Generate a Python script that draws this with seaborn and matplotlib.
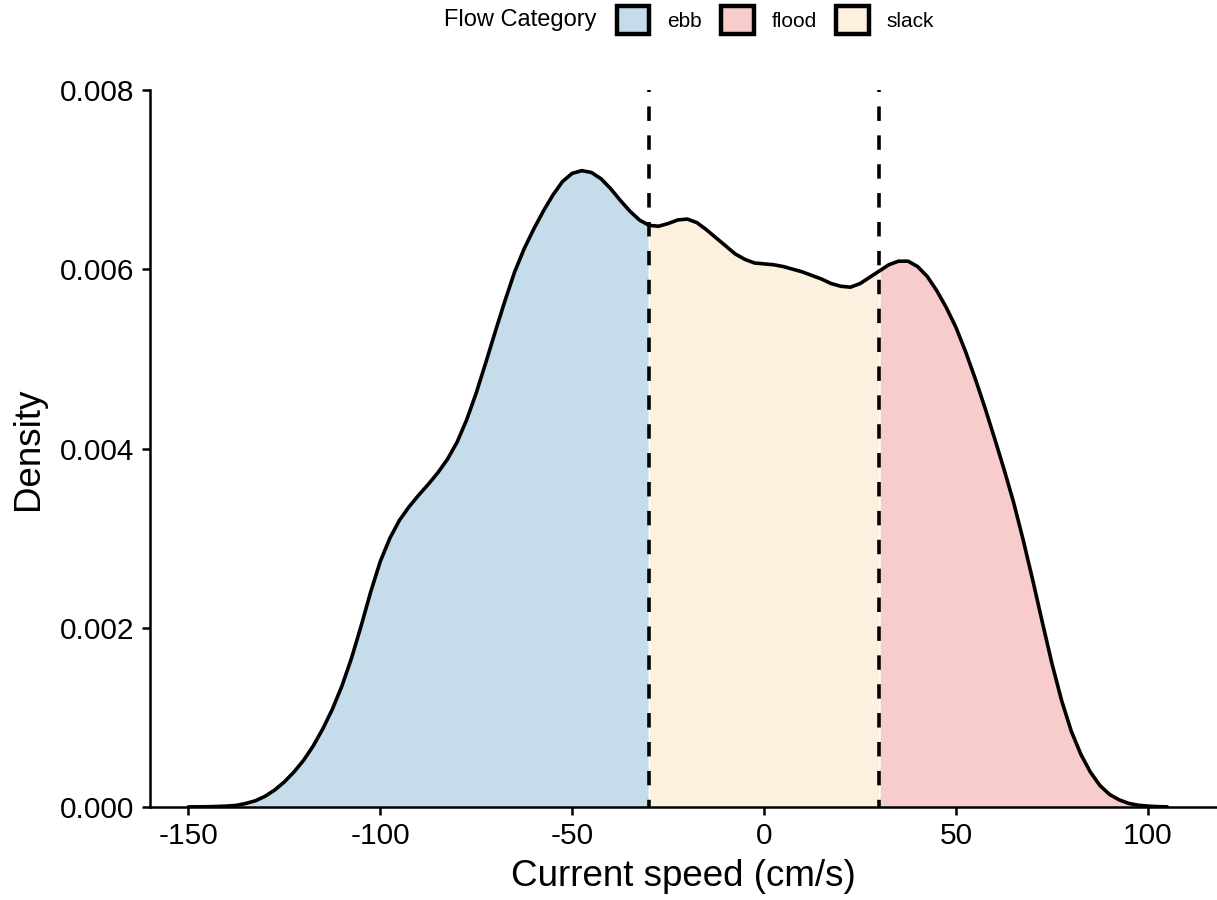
import numpy as np
import pandas as pd
import matplotlib
matplotlib.use("Agg")
import matplotlib.pyplot as plt
from matplotlib.patches import Patch
import seaborn as sns

# Kernel density of current speed, sampled every 2.5 cm/s
speed = [-150, -147.5, -145, -142.5, -140, -137.5, -135, -132.5, -130,
         -127.5, -125, -122.5, -120, -117.5, -115, -112.5, -110, -107.5,
         -105, -102.5, -100, -97.5, -95, -92.5, -90, -87.5, -85, -82.5, -80,
         -77.5, -75, -72.5, -70, -67.5, -65, -62.5, -60, -57.5, -55, -52.5,
         -50, -47.5, -45, -42.5, -40, -37.5, -35, -32.5, -30, -27.5, -25,
         -22.5, -20, -17.5, -15, -12.5, -10, -7.5, -5, -2.5, 0, 2.5, 5, 7.5,
         10, 12.5, 15, 17.5, 20, 22.5, 25, 27.5, 30, 32.5, 35, 37.5, 40,
         42.5, 45, 47.5, 50, 52.5, 55, 57.5, 60, 62.5, 65, 67.5, 70, 72.5,
         75, 77.5, 80, 82.5, 85, 87.5, 90, 92.5, 95, 97.5, 100, 102.5, 105]
density = [0.000001, 0.000002, 0.000003, 0.000006, 0.00001, 0.000018,
           0.00004, 0.00007, 0.00012, 0.00019, 0.00028, 0.00039, 0.00052,
           0.00068, 0.00087, 0.00109, 0.00135, 0.00166, 0.00202, 0.00240,
           0.00274, 0.00300, 0.00320, 0.00335, 0.00348, 0.00360, 0.00373,
           0.00388, 0.00407, 0.00432, 0.00462, 0.00496, 0.00531, 0.00565,
           0.00597, 0.00623, 0.00645, 0.00665, 0.00683, 0.00698, 0.00707,
           0.00710, 0.00708, 0.00701, 0.00690, 0.00677, 0.00665, 0.00655,
           0.00649, 0.00648, 0.00651, 0.00655, 0.00656, 0.00652, 0.00644,
           0.00635, 0.00626, 0.00617, 0.00611, 0.00607, 0.00606, 0.00605,
           0.00603, 0.00600, 0.00597, 0.00593, 0.00589, 0.00584, 0.00581,
           0.00580, 0.00584, 0.00591, 0.00598, 0.00605, 0.00609, 0.00609,
           0.00603, 0.00592, 0.00576, 0.00557, 0.00535, 0.00508, 0.00478,
           0.00446, 0.00412, 0.00377, 0.00340, 0.00298, 0.00253, 0.00206,
           0.00160, 0.00119, 0.00085, 0.00059, 0.00039, 0.00024, 0.00014,
           0.00008, 0.00004, 0.00002, 0.00001, 0.000004, 0.000002]

# Slack water lies between these speeds
slack_bounds = [-30, 30]
categories = ["ebb", "flood", "slack"]
category_colors = ["#C5DCEB", "#F8CCCA", "#FDF0DF"]

df = pd.DataFrame({"speed": speed, "density": density})

sns.set_theme(style="ticks")
plt.rcParams["font.family"] = ["Liberation Sans", "DejaVu Sans"]
plt.rcParams["text.color"] = "black"
plt.rcParams["axes.labelcolor"] = "black"

fig = plt.figure(figsize=(12.17, 9.0), dpi=100)
ax = fig.add_axes([150 / 1217, 93 / 900, 1067 / 1217, 717 / 900])

palette = dict(zip(categories, category_colors))
lo, hi = slack_bounds
x = df["speed"].to_numpy()
y = df["density"].to_numpy()
masks = {
    "ebb": x <= lo,
    "slack": (x >= lo) & (x <= hi),
    "flood": x >= hi,
}
for cat in categories:
    m = masks[cat]
    ax.fill_between(x[m], 0, y[m], facecolor=palette[cat], edgecolor="white",
                    linewidth=1.0, zorder=1)

sns.lineplot(data=df, x="speed", y="density", color="black", linewidth=2.6,
             sort=True, ax=ax, zorder=3)

for b in slack_bounds:
    ax.axvline(b, color="black", linewidth=2.6, linestyle=(2, (4, 4)), zorder=2)

ax.set_xlim(-160, 118)
ax.set_ylim(0, 0.008)
ax.set_xticks([-150, -100, -50, 0, 50, 100])
ax.set_xticklabels(["-150", "-100", "-50", "0", "50", "100"])
ax.set_yticks([0, 0.002, 0.004, 0.006, 0.008])
ax.set_yticklabels(["0.000", "0.002", "0.004", "0.006", "0.008"])

ax.set_xlabel("Current speed (cm/s)", fontsize=26.5, labelpad=6)
ax.set_ylabel("Density", fontsize=26.5, labelpad=10)
ax.tick_params(axis="both", labelsize=21.5, length=6, width=1.8,
               color="black", labelcolor="black", pad=5)

sns.despine(ax=ax)
for side in ["left", "bottom"]:
    ax.spines[side].set_linewidth(1.8)
    ax.spines[side].set_color("black")
ax.set_facecolor("white")

# Legend across the top
handles = [Patch(facecolor=palette[c], edgecolor="black", linewidth=3.2)
           for c in categories]
fig.text(597 / 1217, 1 - 20 / 900, "Flow Category", fontsize=17,
         ha="right", va="center")
fig.legend(handles, categories, ncol=3, loc="center left",
           bbox_to_anchor=(617 / 1217, 1 - 20 / 900), frameon=False,
           fontsize=15, handlelength=1.55, handleheight=1.75,
           handletextpad=0.85, columnspacing=0.95, borderaxespad=0,
           borderpad=0)

fig.savefig("out.png", dpi=100, facecolor="white")
